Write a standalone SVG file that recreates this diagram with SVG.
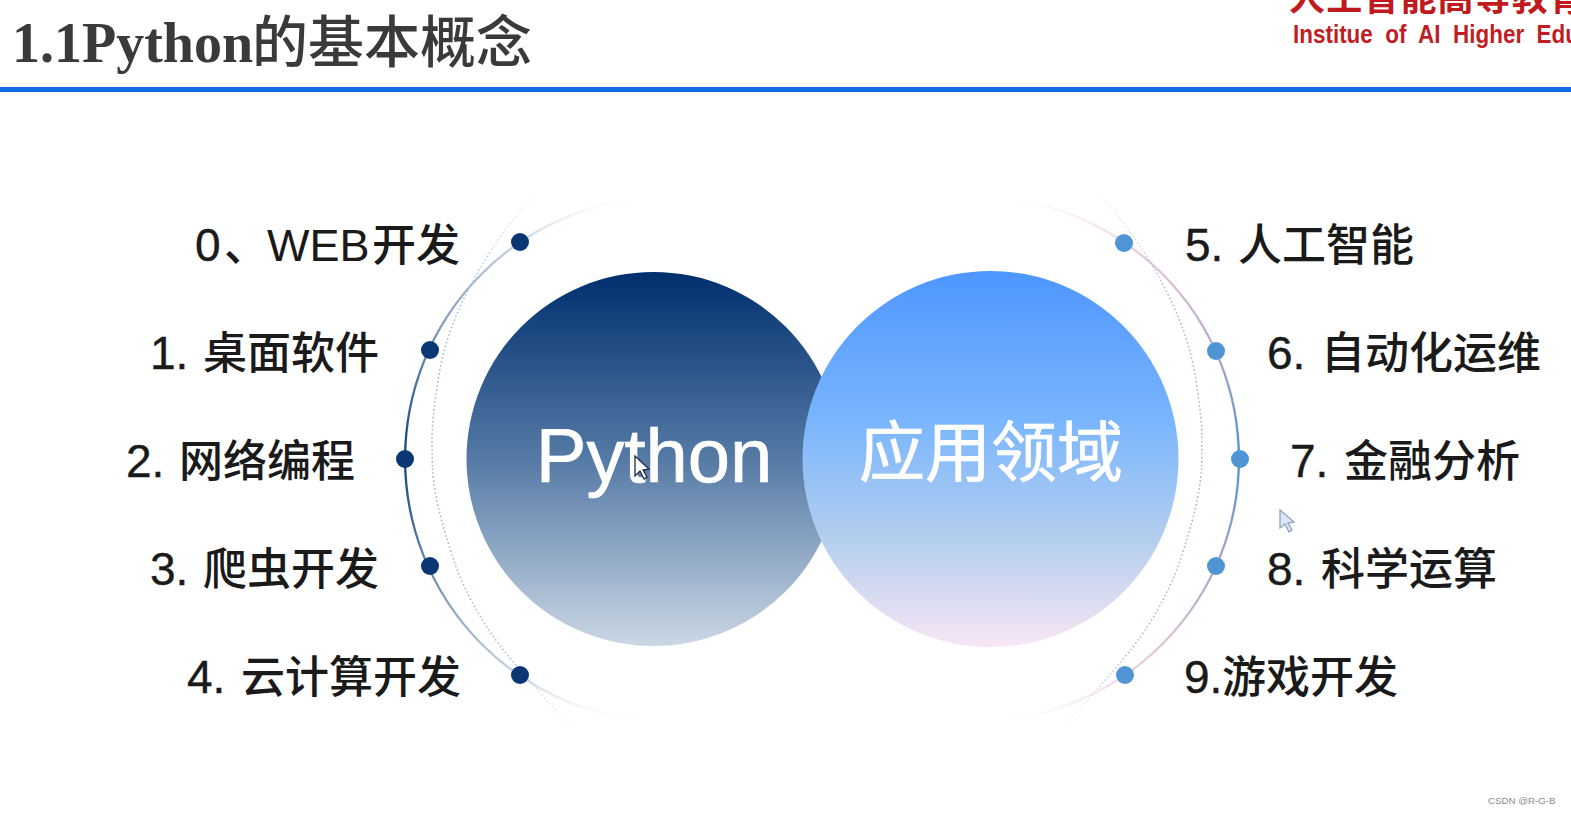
<svg xmlns="http://www.w3.org/2000/svg" width="1571" height="815" viewBox="0 0 1571 815">
<style>
.lb{font-family:"Liberation Sans","Noto Sans CJK SC",sans-serif;font-size:46px;fill:#1a1a1a;stroke:#1a1a1a;stroke-width:.4}
.lb tspan{font-family:"Noto Sans CJK SC",sans-serif;font-size:44px;font-weight:500;stroke:none}
.c{fill:#fff;text-anchor:middle;stroke:#fff}
.dl{fill:#0a3674}
.dr{fill:#4f94d4}
.dot{fill:none;stroke-width:1.4;stroke-dasharray:1.6 2.4}
</style>
<defs>
<linearGradient id="gl" x1="0" y1="0" x2="0" y2="1"><stop offset="0" stop-color="#002f6e"/><stop offset=".5" stop-color="#557aa5"/><stop offset="1" stop-color="#cbd7e5"/></linearGradient>
<linearGradient id="gr" x1="0" y1="0" x2="0" y2="1"><stop offset="0" stop-color="#4e96ff"/><stop offset=".4" stop-color="#7ab6fd"/><stop offset=".72" stop-color="#b5cfee"/><stop offset="1" stop-color="#f8e6f5"/></linearGradient>
<linearGradient id="al" gradientUnits="userSpaceOnUse" x1="0" y1="197" x2="0" y2="721"><stop offset="0" stop-color="#dfe7f1" stop-opacity="0"/><stop offset=".09" stop-color="#c6d3e3"/><stop offset=".29" stop-color="#6b8bb2"/><stop offset=".5" stop-color="#123f7c"/><stop offset=".71" stop-color="#6b8bb2"/><stop offset=".91" stop-color="#c6d3e3"/><stop offset="1" stop-color="#dfe7f1" stop-opacity="0"/></linearGradient>
<linearGradient id="ar" gradientUnits="userSpaceOnUse" x1="0" y1="197" x2="0" y2="721"><stop offset="0" stop-color="#f6e6ee" stop-opacity="0"/><stop offset=".09" stop-color="#edcfdc"/><stop offset=".29" stop-color="#b3a6c8"/><stop offset=".5" stop-color="#4f8fd2"/><stop offset=".71" stop-color="#b3a6c8"/><stop offset=".91" stop-color="#edcfdc"/><stop offset="1" stop-color="#f6e6ee" stop-opacity="0"/></linearGradient>
<linearGradient id="dg" gradientUnits="userSpaceOnUse" x1="0" y1="180" x2="0" y2="732"><stop offset="0" stop-color="#9dbbdc" stop-opacity="0"/><stop offset=".2" stop-color="#9dbbdc"/><stop offset=".5" stop-color="#8fb2d8"/><stop offset=".85" stop-color="#9dbbdc"/><stop offset="1" stop-color="#9dbbdc" stop-opacity="0"/></linearGradient>
<path id="dp" d="M547 180Q513 217 491.5 250Q470 283 456.5 315Q443 347 437.5 383.5Q432 420 432 438.5Q432 457 432.5 468.5Q433 480 436.5 498.5Q440 517 451.5 553.5Q463 590 486.5 626.5Q510 663 577 732"/>
</defs>
<rect width="1571" height="815" fill="#fff"/>
<g id="header">
<text x="12" y="62" font-family="'Liberation Serif','Noto Sans CJK SC',serif" font-size="56" font-weight="700" fill="#3a3a3a">1.1Python<tspan x="252" font-family="'Noto Sans CJK SC',sans-serif" font-size="56" font-weight="500">的基本概念</tspan></text>
<text x="1289" y="11" font-family="'Noto Sans CJK SC',sans-serif" font-size="36" font-weight="700" fill="#c01a1e" textLength="296">人工智能高等教育</text>
<text x="1293" y="43" font-family="'Liberation Sans',sans-serif" font-size="25" font-weight="700" fill="#bf1f24" xml:space="preserve" textLength="286" lengthAdjust="spacingAndGlyphs">Institue  of  AI  Higher  Edu</text>
<rect x="0" y="87" width="1571" height="5" fill="#0f6fe6"/>
</g>
<g id="connectors">
<path d="M667 197A262 262 0 0 0 667 721" fill="none" stroke="url(#al)" stroke-width="2.3"/>
<path d="M977 197A262 262 0 0 1 977 721" fill="none" stroke="url(#ar)" stroke-width="2.3"/>
<use href="#dp" class="dot" stroke="url(#dg)"/>
<g transform="translate(1634 0) scale(-1 1)"><use href="#dp" class="dot" stroke="url(#dg)"/></g>
</g>
<g id="python"><circle cx="653.500" cy="459" r="187" fill="url(#gl)"/><text class="c" x="654" y="482" font-size="76" stroke-width=".7" font-family="'Liberation Sans',sans-serif">Python</text></g>
<g id="domain"><circle cx="990.500" cy="459" r="188" fill="url(#gr)"/><text class="c" x="991" y="476" font-size="66" stroke-width=".7" font-family="'Noto Sans CJK SC',sans-serif">应用领域</text></g>
<g id="n0"><circle class="dl" cx="520" cy="242" r="9"/><text class="lb" x="195" y="261">0<tspan x="224">、</tspan><tspan x="267" style="font-family:'Liberation Sans',sans-serif;font-size:45px;font-weight:400">WEB</tspan><tspan x="372">开发</tspan></text></g>
<g id="n1"><circle class="dl" cx="430" cy="350" r="9"/><text class="lb" x="150" y="369">1. <tspan x="203">桌面软件</tspan></text></g>
<g id="n2"><circle class="dl" cx="405" cy="459" r="9"/><text class="lb" x="126" y="477">2. <tspan x="179">网络编程</tspan></text></g>
<g id="n3"><circle class="dl" cx="430" cy="566" r="9"/><text class="lb" x="150" y="585">3. <tspan x="203">爬虫开发</tspan></text></g>
<g id="n4"><circle class="dl" cx="520" cy="675" r="9"/><text class="lb" x="187" y="693">4. <tspan x="241">云计算开发</tspan></text></g>
<g id="n5"><circle class="dr" cx="1124" cy="243" r="9"/><text class="lb" x="1185" y="261">5. <tspan x="1238">人工智能</tspan></text></g>
<g id="n6"><circle class="dr" cx="1216" cy="351" r="9"/><text class="lb" x="1267" y="369">6. <tspan x="1321">自动化运维</tspan></text></g>
<g id="n7"><circle class="dr" cx="1240" cy="459" r="9"/><text class="lb" x="1290" y="477">7. <tspan x="1344">金融分析</tspan></text></g>
<g id="n8"><circle class="dr" cx="1216" cy="566" r="9"/><text class="lb" x="1267" y="585">8. <tspan x="1321">科学运算</tspan></text></g>
<g id="n9"><circle class="dr" cx="1125" cy="675" r="9"/><text class="lb" x="1184" y="693">9.<tspan x="1222">游戏开发</tspan></text></g>
<path id="cursor1" d="M635 456V476L640 471L644 479L647 477L643 470L649 469Z" fill="#fff" stroke="#1c2a3a" stroke-width="1.3"/>
<path id="cursor2" d="M1280 510V528L1285 524L1289 532L1292 530L1288 523L1294 522Z" fill="#dde6f3" stroke="#8fa4c4" stroke-width="1.3"/>
<text x="1488" y="804" font-family="'Liberation Sans',sans-serif" font-size="9.700" fill="#8a8a8a">CSDN @R-G-B</text>
</svg>
